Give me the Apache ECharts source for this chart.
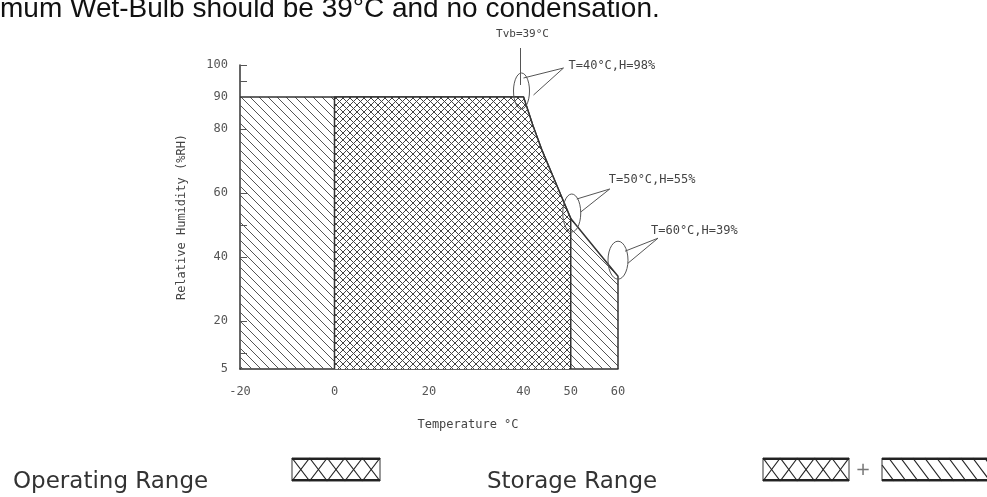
<!DOCTYPE html>
<html>
<head>
<meta charset="utf-8">
<script src="https://cdn.jsdelivr.net/npm/echarts@6/dist/echarts.min.js"></script>
<style>
  html, body { margin: 0; padding: 0; background: #fff; }
  #echarts { width: 987px; height: 497px; }
</style>
</head>
<body>
<div id="echarts"></div>
<script>
var tempLabels = [-20, 0, 20, 40, 50, 60];
var humidityLabels = [5, 20, 40, 60, 80, 90, 100];
var humidityTicks = [10, 20, 40, 50, 60, 80, 95, 100];
// edge of the storage area (upper line), temperature / humidity pairs
var storageEdge = [[-20, 90], [40, 90], [42, 81], [44, 73], [46, 66], [48, 59], [50, 52], [55, 43], [60, 34], [60, 5]];
// edge of the operating area
var operatingEdge = [[0, 5], [0, 90], [40, 90], [42, 81], [44, 73], [46, 66], [48, 59], [50, 52], [50, 5]];
var noteTexts = ['T=40°C,H=98%', 'T=50°C,H=55%', 'T=60°C,H=39%'];
var notePoints = [[40, 90], [50, 55], [60, 39]];

var plotFont = '"DejaVu Sans Mono"';

function hatch(size, cross) {
    var c = document.createElement('canvas');
    c.width = size;
    c.height = size;
    var ctx = c.getContext('2d');
    if (cross) {
        ctx.fillStyle = '#fff';
        ctx.fillRect(0, 0, size, size);
    }
    ctx.strokeStyle = cross ? '#444' : '#555';
    ctx.lineWidth = 1;
    ctx.beginPath();
    ctx.moveTo(-1, -1); ctx.lineTo(size + 1, size + 1);
    ctx.moveTo(-size - 1, -1); ctx.lineTo(size + 1, 2 * size + 1);
    ctx.moveTo(-1, -size - 1); ctx.lineTo(2 * size + 1, size + 1);
    if (cross) {
        ctx.moveTo(size + 1, -1); ctx.lineTo(-1, size + 1);
        ctx.moveTo(2 * size + 1, -1); ctx.lineTo(-1, 2 * size + 1);
        ctx.moveTo(size + 1, -size - 1); ctx.lineTo(-size - 1, size + 1);
    }
    ctx.stroke();
    return c;
}

var myChart = echarts.init(document.getElementById('echarts'));

var option = {
    animation: false,
    grid: {
        left: 240,
        right: 369,
        top: 65,
        bottom: 128,
        containLabel: false,
        outerBoundsMode: 'none'
    },
    xAxis: {
        type: 'value',
        min: -20,
        max: 60,
        name: 'Temperature °C',
        nameLocation: 'middle',
        nameGap: 50,
        nameTextStyle: {
            fontFamily: plotFont,
            fontSize: 12,
            color: '#444',
            padding: [0, 0, 0, 78]
        },
        axisLine: { onZero: false, lineStyle: { color: '#333', width: 1.5 } },
        axisTick: { show: false },
        splitLine: { show: false },
        axisLabel: {
            customValues: tempLabels,
            margin: 17,
            fontFamily: plotFont,
            fontSize: 12,
            color: '#555'
        }
    },
    yAxis: {
        type: 'value',
        min: 5,
        max: 100,
        name: 'Relative Humidity (%RH)',
        nameLocation: 'middle',
        nameGap: 52,
        nameTextStyle: {
            fontFamily: plotFont,
            fontSize: 12,
            color: '#444'
        },
        axisLine: { show: true, onZero: false, lineStyle: { color: '#333', width: 1.5 } },
        axisTick: {
            show: true,
            inside: true,
            length: 7,
            customValues: humidityTicks,
            lineStyle: { color: '#555' }
        },
        splitLine: { show: false },
        axisLabel: {
            customValues: humidityLabels,
            margin: 12,
            fontFamily: plotFont,
            fontSize: 12,
            color: '#555'
        }
    },
    series: [{
        name: 'Storage Range',
        type: 'line',
        data: storageEdge,
        symbol: 'none',
        lineStyle: { color: '#333', width: 1.5 },
        areaStyle: { origin: 'start', opacity: 1, color: { image: hatch(9, false), repeat: 'repeat' } },
        z: 1
    }, {
        name: 'Operating Range',
        type: 'line',
        data: operatingEdge,
        symbol: 'none',
        lineStyle: { color: '#333', width: 1.5 },
        areaStyle: { origin: 'start', opacity: 1, color: { image: hatch(7, true), repeat: 'repeat' } },
        z: 2
    }]
};
myChart.setOption(option);

// annotations, header text and the legend below the chart
var graphics = [];
var thin = { stroke: '#555', lineWidth: 1, fill: null };

function ellipse(cx, cy, rx, ry) {
    var pts = [];
    for (var i = 0; i < 28; i++) {
        var a = i / 28 * Math.PI * 2;
        pts.push([cx + rx * Math.cos(a), cy + ry * Math.sin(a)]);
    }
    return { type: 'polygon', shape: { points: pts }, style: thin, z: 100 };
}

var ellSize = [[8, 18], [9, 19], [10, 19]];
var centerShift = [[-2, -6], [1, 4], [0, 0]];
var leaders = [
    [[2, -13], [42, -23], [12, 4]],
    [[5, -14], [38, -24], [9, -1]],
    [[7, -9], [40, -22], [10, 3]]
];
var textShift = [[47, -25], [37, -33], [33, -29]];

notePoints.forEach(function (p, i) {
    var px = myChart.convertToPixel({ gridIndex: 0 }, p);
    var cx = px[0] + centerShift[i][0];
    var cy = px[1] + centerShift[i][1];
    graphics.push(ellipse(cx, cy, ellSize[i][0], ellSize[i][1]));
    graphics.push({
        type: 'polyline',
        shape: { points: leaders[i].map(function (d) { return [cx + d[0], cy + d[1]]; }) },
        style: thin,
        z: 100
    });
    graphics.push({
        type: 'text',
        x: cx + textShift[i][0],
        y: cy + textShift[i][1],
        style: { text: noteTexts[i], font: '12px ' + plotFont, fill: '#444', textAlign: 'left', textVerticalAlign: 'middle' },
        z: 100
    });
    if (i === 0) {
        graphics.push({ type: 'line', shape: { x1: cx - 1, y1: cy - 43, x2: cx - 1, y2: cy - 6 }, style: thin, z: 100 });
        graphics.push({
            type: 'text', x: cx + 1, y: cy - 57,
            style: { text: 'Tvb=39°C', font: '11px ' + plotFont, fill: '#444', textAlign: 'center', textVerticalAlign: 'middle' },
            z: 100
        });
    }
});

graphics.push({
    type: 'text', x: 0, y: 9,
    style: { text: 'mum Wet-Bulb should be 39°C and no condensation.', font: '28px "Liberation Sans"', fill: '#111', textVerticalAlign: 'middle' }
});

function crossBox(x, y, w, h, n) {
    var cw = w / n;
    for (var i = 0; i < n; i++) {
        var x0 = x + i * cw;
        graphics.push({ type: 'line', shape: { x1: x0, y1: y, x2: x0 + cw, y2: y + h }, style: { stroke: '#222', lineWidth: 1.2 } });
        graphics.push({ type: 'line', shape: { x1: x0 + cw, y1: y, x2: x0, y2: y + h }, style: { stroke: '#222', lineWidth: 1.2 } });
    }
    frame(x, y, w, h);
}

function slashBox(x, y, w, h, step) {
    var dx = h * 0.75;
    for (var s = -dx; s < w; s += step) {
        var t0 = Math.max(0, -s / dx);
        var t1 = Math.min(1, (w - s) / dx);
        if (t1 <= t0) continue;
        graphics.push({
            type: 'line',
            shape: { x1: x + s + t0 * dx, y1: y + t0 * h, x2: x + s + t1 * dx, y2: y + t1 * h },
            style: { stroke: '#222', lineWidth: 1.2 }
        });
    }
    frame(x, y, w, h);
}

function frame(x, y, w, h) {
    graphics.push({ type: 'rect', shape: { x: x, y: y, width: w, height: h }, style: { stroke: '#333', lineWidth: 1, fill: null } });
    graphics.push({ type: 'line', shape: { x1: x, y1: y + 1, x2: x + w, y2: y + 1 }, style: { stroke: '#222', lineWidth: 2 } });
    graphics.push({ type: 'line', shape: { x1: x, y1: y + h - 1, x2: x + w, y2: y + h - 1 }, style: { stroke: '#222', lineWidth: 2 } });
}

var legendFont = '23px "DejaVu Sans"';
graphics.push({ type: 'text', x: 13, y: 482, style: { text: 'Operating Range', font: legendFont, fill: '#333', textVerticalAlign: 'middle' } });
graphics.push({ type: 'text', x: 487, y: 482, style: { text: 'Storage Range', font: legendFont, fill: '#333', textVerticalAlign: 'middle' } });
crossBox(292, 458, 88, 23, 5);
crossBox(763, 458, 86, 23, 5);
graphics.push({ type: 'text', x: 863, y: 470, style: { text: '+', font: '18px "DejaVu Sans"', fill: '#777', textAlign: 'center', textVerticalAlign: 'middle' } });
slashBox(882, 458, 110, 23, 12);

myChart.setOption({ graphic: graphics });
</script>
</body>
</html>
